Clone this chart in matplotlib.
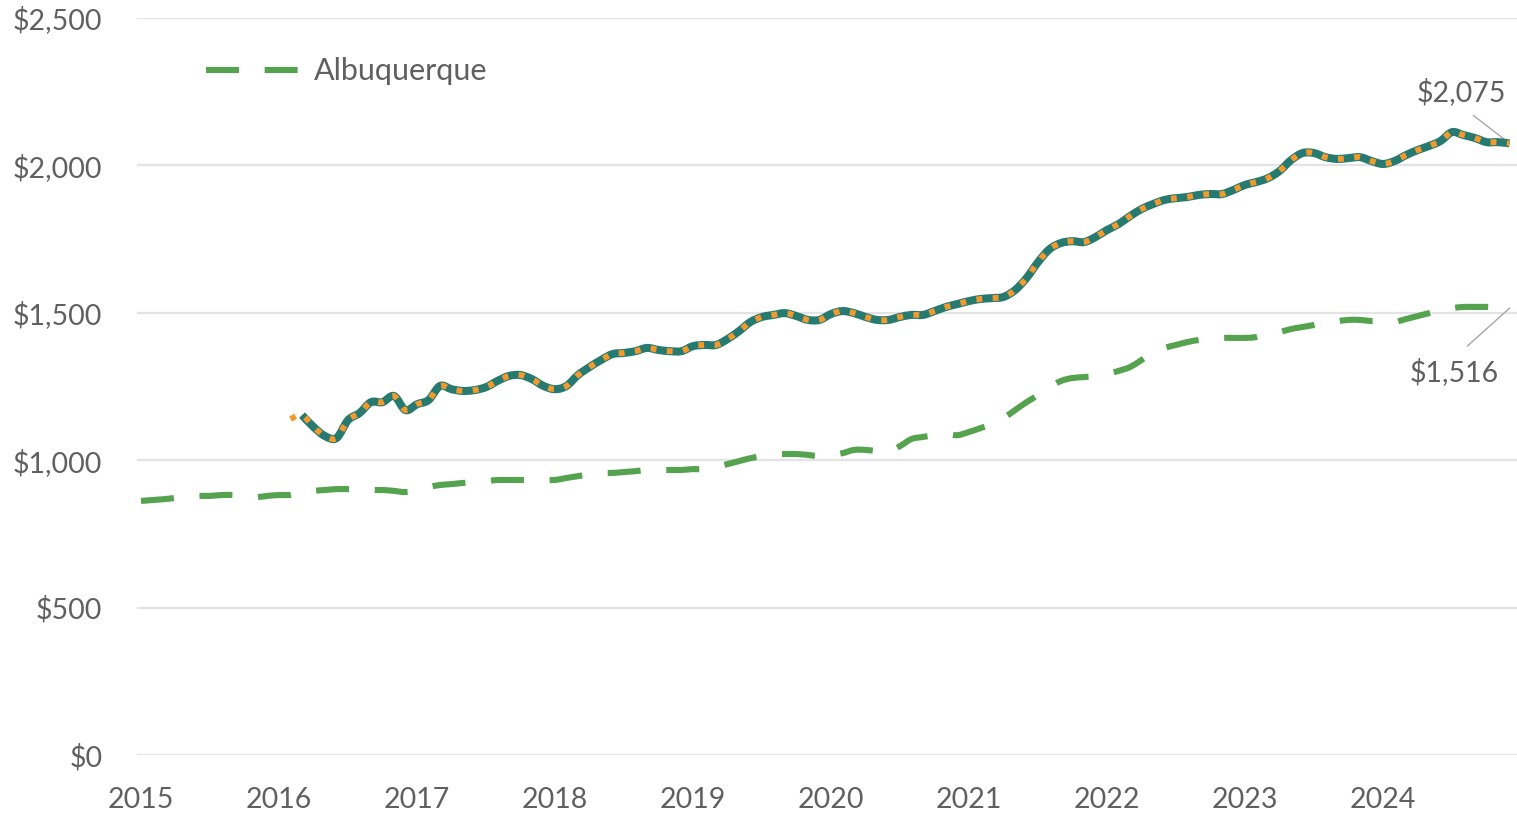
"""
Median monthly rent, Albuquerque vs. comparison series (Jan 2015 - Dec 2024).
"""

import matplotlib
matplotlib.use("Agg")
import matplotlib.pyplot as plt
from matplotlib.path import Path
from matplotlib.patches import PathPatch
from matplotlib.lines import Line2D
from matplotlib.ticker import FuncFormatter

# ── data (monthly, index 0 = Jan 2015) ───────────────────────────────────────
YEARS = [2015, 2016, 2017, 2018, 2019, 2020, 2021, 2022, 2023, 2024]

albuquerque = [
    862, 865, 868, 872, 875, 879, 879, 882, 882, 879, 875, 879,        # 2015
    882, 882, 889, 896, 899, 902, 902, 902, 899, 899, 896, 892,        # 2016
    899, 909, 916, 919, 923, 926, 929, 933, 933, 933, 933, 933,        # 2017
    933, 940, 946, 953, 957, 957, 960, 963, 967, 967, 967, 967,        # 2018
    970, 970, 977, 987, 997, 1007, 1014, 1018, 1021, 1021, 1018, 1014,  # 2019
    1018, 1024, 1035, 1035, 1031, 1028, 1048, 1072, 1079, 1085, 1089, 1085,  # 2020
    1096, 1109, 1123, 1143, 1170, 1197, 1221, 1248, 1269, 1279, 1282, 1286,  # 2021
    1292, 1303, 1316, 1340, 1364, 1381, 1391, 1401, 1408, 1411, 1415, 1415,  # 2022
    1415, 1418, 1428, 1435, 1445, 1452, 1459, 1469, 1472, 1476, 1476, 1472,  # 2023
    1472, 1469, 1479, 1489, 1499, 1509, 1516, 1520, 1520, 1520, 1518, 1516,  # 2024
]

# teal series starts Mar 2016 (index 14)
TEAL_START = 14
teal = [
    1153, 1113, 1082, 1075, 1136, 1160, 1197, 1197, 1218, 1170,        # 2016
    1190, 1204, 1252, 1241, 1235, 1238, 1248, 1269, 1286, 1289, 1275, 1252,  # 2017
    1241, 1252, 1289, 1316, 1340, 1360, 1364, 1370, 1381, 1374, 1370, 1370,  # 2018
    1387, 1391, 1391, 1411, 1438, 1469, 1486, 1493, 1499, 1489, 1476, 1476,  # 2019
    1496, 1506, 1499, 1486, 1476, 1476, 1486, 1493, 1493, 1506, 1520, 1530,  # 2020
    1540, 1547, 1550, 1554, 1577, 1618, 1672, 1716, 1737, 1743, 1740, 1757,  # 2021
    1781, 1801, 1828, 1852, 1869, 1883, 1889, 1893, 1900, 1903, 1903, 1917,  # 2022
    1934, 1944, 1957, 1981, 2018, 2042, 2042, 2028, 2022, 2025, 2028, 2015,  # 2023
    2005, 2015, 2035, 2052, 2066, 2083, 2113, 2103, 2093, 2079, 2079, 2075,  # 2024
]

# orange series starts one month earlier (Feb 2016)
ORANGE_START = 13
orange = [1140] + teal

# ── style ─────────────────────────────────────────────────────────────────────
plt.rcParams["font.family"] = ["Lato", "DejaVu Sans"]
TEXT_CLR  = "#606060"
GRID_CLR  = "#e3e3e3"
TEAL_CLR  = "#267a6f"
ORNG_CLR  = "#f29a2e"
GREEN_CLR = "#55a34f"
LEAD_CLR  = "#a6a6a6"
FS = 20.5
ABQ_DASH = (0, (5.4, 4.2))


def smooth_path(xs, ys):
    """Excel-style smoothed line: Catmull-Rom segments as cubic Beziers."""
    pts = list(zip(xs, ys))
    verts = [pts[0]]
    codes = [Path.MOVETO]
    n = len(pts)
    for i in range(n - 1):
        p0 = pts[max(i - 1, 0)]
        p1 = pts[i]
        p2 = pts[i + 1]
        p3 = pts[min(i + 2, n - 1)]
        c1 = (p1[0] + (p2[0] - p0[0]) / 6, p1[1] + (p2[1] - p0[1]) / 6)
        c2 = (p2[0] - (p3[0] - p1[0]) / 6, p2[1] - (p3[1] - p1[1]) / 6)
        verts += [c1, c2, p2]
        codes += [Path.CURVE4] * 3
    return Path(verts, codes)


def draw_series(ax, xs, ys, **kw):
    patch = PathPatch(smooth_path(xs, ys), fill=False,
                      transform=ax.transData, **kw)
    ax.add_patch(patch)
    return patch


fig = plt.figure(figsize=(15.17, 8.13), dpi=100)
ax = fig.add_axes([0.0903, 0.0713, 0.9097, 0.9065])

x_abq = list(range(len(albuquerque)))
x_teal = list(range(TEAL_START, TEAL_START + len(teal)))
x_orng = list(range(ORANGE_START, ORANGE_START + len(orange)))

draw_series(ax, x_abq, albuquerque, edgecolor=GREEN_CLR, lw=4.4,
            linestyle=ABQ_DASH, capstyle="butt", zorder=3)
draw_series(ax, x_teal, teal, edgecolor=TEAL_CLR, lw=5.8,
            capstyle="butt", joinstyle="round", zorder=4)
draw_series(ax, x_orng, orange, edgecolor=ORNG_CLR, lw=4.2,
            linestyle=(0, (1, 1.8)), capstyle="butt", zorder=5)

# axes
ax.set_xlim(-0.35, 119.65)
ax.set_ylim(0, 2500)
ax.set_yticks([0, 500, 1000, 1500, 2000, 2500])
ax.yaxis.set_major_formatter(FuncFormatter(lambda v, _: f"${v:,.0f}"))
ax.set_xticks([12 * i for i in range(len(YEARS))])
ax.set_xticklabels([str(y) for y in YEARS])
ax.tick_params(axis="both", length=0, labelsize=FS, labelcolor=TEXT_CLR)
ax.tick_params(axis="y", pad=25)
ax.tick_params(axis="x", pad=23)
for s in ax.spines.values():
    s.set_visible(False)
ax.grid(axis="y", color=GRID_CLR, lw=1.6)
ax.set_axisbelow(True)

handle = Line2D([], [], color=GREEN_CLR, lw=4.4, linestyle=ABQ_DASH)
leg = ax.legend([handle], ["Albuquerque"], loc="upper left",
                bbox_to_anchor=(0.030, 0.984), frameon=False,
                fontsize=22, handlelength=3.0, handletextpad=0.55)
for t in leg.get_texts():
    t.set_color(TEXT_CLR)

# end labels
ax.annotate(f"${teal[-1]:,}", xy=(x_teal[-1], teal[-1]), xytext=(-35, 27),
            textcoords="offset points", ha="center", va="bottom",
            fontsize=FS, color=TEXT_CLR,
            arrowprops=dict(arrowstyle="-", color=LEAD_CLR, lw=1,
                            relpos=(0.5, 0), shrinkA=8, shrinkB=0))
ax.annotate(f"${albuquerque[-1]:,}", xy=(x_abq[-1], albuquerque[-1]), xytext=(-40, -36),
            textcoords="offset points", ha="center", va="top",
            fontsize=FS, color=TEXT_CLR,
            arrowprops=dict(arrowstyle="-", color=LEAD_CLR, lw=1,
                            relpos=(0.5, 1), shrinkA=10, shrinkB=0))

fig.savefig("out.png", dpi=100)
